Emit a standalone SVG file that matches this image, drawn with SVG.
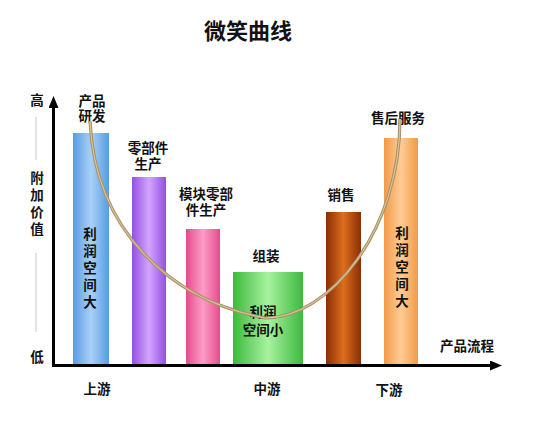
<svg xmlns="http://www.w3.org/2000/svg" width="533" height="423" viewBox="0 0 533 423">
<style>
text{font-family:"Liberation Sans","Noto Sans CJK SC",sans-serif;font-weight:bold;fill:#111;text-anchor:middle;dominant-baseline:central}
.lbl{font-size:13.5px}
.title{font-size:22px}
.axis{stroke:#000;stroke-width:3;fill:none}
.faint{stroke:#e4e4e4;stroke-width:2;fill:none}
.curve{fill:none}
</style>
<defs>
<linearGradient id="gBlue" x1="0" x2="1" y1="0" y2="0"><stop offset="0" stop-color="#5a9be0"/><stop offset="0.5" stop-color="#a8d0f8"/><stop offset="1" stop-color="#5a9be0"/></linearGradient>
<linearGradient id="gPurple" x1="0" x2="1" y1="0" y2="0"><stop offset="0" stop-color="#9450e0"/><stop offset="0.5" stop-color="#d2a4ff"/><stop offset="1" stop-color="#9450e0"/></linearGradient>
<linearGradient id="gPink" x1="0" x2="1" y1="0" y2="0"><stop offset="0" stop-color="#e44c8c"/><stop offset="0.5" stop-color="#ff9cc6"/><stop offset="1" stop-color="#e44c8c"/></linearGradient>
<linearGradient id="gGreen" x1="0" x2="1" y1="0" y2="0"><stop offset="0" stop-color="#3cba3c"/><stop offset="0.5" stop-color="#a8f2a0"/><stop offset="1" stop-color="#3cba3c"/></linearGradient>
<linearGradient id="gBrown" x1="0" x2="1" y1="0" y2="0"><stop offset="0" stop-color="#8a2e04"/><stop offset="0.5" stop-color="#dc6e1e"/><stop offset="1" stop-color="#8a2e04"/></linearGradient>
<linearGradient id="gOrange" x1="0" x2="1" y1="0" y2="0"><stop offset="0" stop-color="#f09a48"/><stop offset="0.5" stop-color="#ffcc94"/><stop offset="1" stop-color="#f09a48"/></linearGradient>
<marker id="arr" markerWidth="12" markerHeight="10" refX="2" refY="5" orient="auto" markerUnits="userSpaceOnUse"><path d="M0,0 L12,5 L0,10 Z" fill="#000"/></marker>
</defs>
<rect width="533" height="423" fill="#fff"/>
<text class="title" x="248" y="31">微笑曲线</text>

<g id="bar-rd"><rect x="73" y="133" width="36" height="232" fill="url(#gBlue)"/>
<text class="lbl"><tspan x="92" y="100.5">产品</tspan><tspan x="92" y="116">研发</tspan></text>
<text class="lbl"><tspan x="90" y="234">利</tspan><tspan x="90" y="251">润</tspan><tspan x="90" y="268">空</tspan><tspan x="90" y="285">间</tspan><tspan x="90" y="302">大</tspan></text></g>
<g id="bar-parts"><rect x="132" y="177" width="34" height="188" fill="url(#gPurple)"/>
<text class="lbl"><tspan x="148" y="148">零部件</tspan><tspan x="148" y="164">生产</tspan></text></g>
<g id="bar-module"><rect x="186" y="229" width="34" height="136" fill="url(#gPink)"/>
<text class="lbl"><tspan x="206" y="194">模块零部</tspan><tspan x="206" y="210">件生产</tspan></text></g>
<g id="bar-assembly"><rect x="233" y="272" width="70" height="93" fill="url(#gGreen)"/>
<text class="lbl" x="266" y="256">组装</text>
<text class="lbl"><tspan x="263" y="312">利润</tspan><tspan x="263" y="330">空间小</tspan></text></g>
<g id="bar-sales"><rect x="326" y="212" width="35" height="153" fill="url(#gBrown)"/>
<text class="lbl" x="341" y="195">销售</text></g>
<g id="bar-service"><rect x="384" y="138" width="34" height="227" fill="url(#gOrange)"/>
<text class="lbl" x="398" y="118">售后服务</text>
<text class="lbl"><tspan x="402" y="233">利</tspan><tspan x="402" y="250">润</tspan><tspan x="402" y="267">空</tspan><tspan x="402" y="284">间</tspan><tspan x="402" y="301">大</tspan></text></g>

<g id="connectors">
<path class="curve" d="M90,121 C95,230 170,300 265,318 C330,318 400,230 400,119" stroke="#a88f66" stroke-width="3.2"/>
<path class="curve" d="M90,121 C95,230 170,300 265,318 C330,318 400,230 400,119" stroke="#d6c49a" stroke-width="1.2"/>
<line class="axis" x1="53.5" y1="366" x2="53.5" y2="106" marker-end="url(#arr)"/>
<line class="axis" x1="52" y1="365.5" x2="492" y2="365.5" marker-end="url(#arr)"/>
<line class="faint" x1="36" y1="117" x2="36" y2="160"/>
<line class="faint" x1="36" y1="253" x2="36" y2="332"/>
</g>

<g id="axis-labels">
<text class="lbl" x="37" y="100">高</text>
<text class="lbl"><tspan x="37" y="178">附</tspan><tspan x="37" y="195">加</tspan><tspan x="37" y="212">价</tspan><tspan x="37" y="229">值</tspan></text>
<text class="lbl" x="37" y="357">低</text>
<text class="lbl" x="467" y="346">产品流程</text>
<text class="lbl" x="97" y="389">上游</text>
<text class="lbl" x="267" y="389">中游</text>
<text class="lbl" x="389" y="390">下游</text>
</g>
</svg>
